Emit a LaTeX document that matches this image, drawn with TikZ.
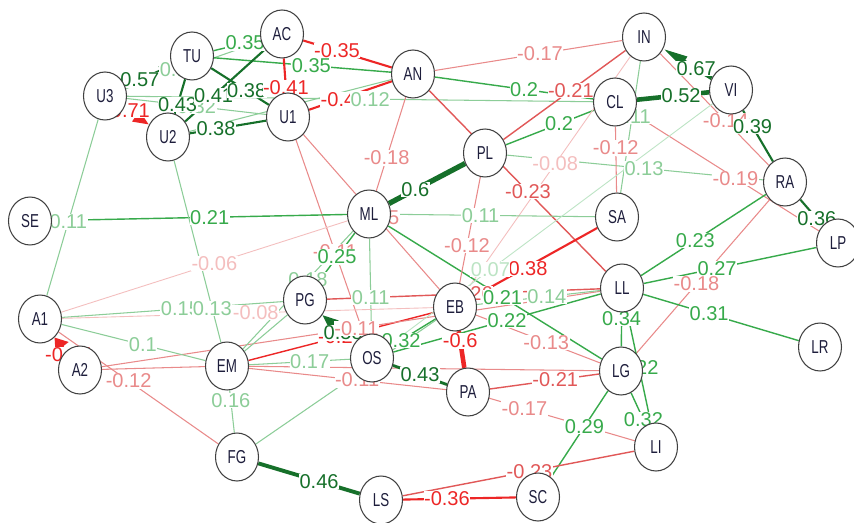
\documentclass[tikz,border=0pt]{standalone}
\usepackage{fontspec}
\setmainfont{Liberation Sans}
\usepackage{graphicx}
\usetikzlibrary{shapes.geometric,arrows.meta}
\definecolor{gA}{RGB}{22,112,42}
\definecolor{gB}{RGB}{55,170,75}
\definecolor{gC}{RGB}{140,205,152}
\definecolor{gD}{RGB}{188,228,196}
\definecolor{rA}{RGB}{237,38,38}
\definecolor{rB}{RGB}{225,88,88}
\definecolor{rC}{RGB}{233,138,138}
\definecolor{rD}{RGB}{244,190,190}
\definecolor{nodetext}{RGB}{30,30,60}
\pgfdeclarelayer{edgelayer}
\pgfdeclarelayer{labellayer}
\pgfsetlayers{edgelayer,labellayer,main}
\tikzset{var/.style={ellipse,draw=black!75,fill=white,line width=0.6pt,minimum width=0.86cm,minimum height=0.96cm,inner sep=0pt,text=nodetext,font=\fontsize{7.6}{9}\selectfont},
  elab/.style={fill=white,inner sep=0.3pt,font=\fontsize{11.4}{13}\selectfont},
  g1/.style={color=gD,line width=0.5pt},
  g2/.style={color=gC,line width=0.6pt},
  g3/.style={color=gB,line width=0.8pt},
  g4/.style={color=gA,line width=1.2pt},
  r1/.style={color=rD,line width=0.5pt},
  r2/.style={color=rC,line width=0.6pt},
  r3/.style={color=rB,line width=0.8pt},
  r4/.style={color=rA,line width=1.2pt}}
\newcommand\nm[1]{\scalebox{1}[1.4]{#1}}
\newcommand\cor[5]{%
  \begin{pgfonlayer}{edgelayer}\draw[#3] (#1) -- (#2);\end{pgfonlayer}%
  \begin{pgfonlayer}{labellayer}\path[#3] (#1.center) -- (#2.center) node[elab,pos=#4] {#5};\end{pgfonlayer}}

\begin{document}
\begin{tikzpicture}[x=0.02cm,y=-0.02cm]
  \useasboundingbox (0,0) rectangle (854,523);
  \begin{pgfonlayer}{edgelayer}\fill[white] (0,0) rectangle (854,523);\end{pgfonlayer}
  \node[var] (U3) at (105,96) {\nm{U3}};
  \node[var] (TU) at (192,56) {\nm{TU}};
  \node[var] (AC) at (282,34) {\nm{AC}};
  \node[var] (U2) at (168,137) {\nm{U2}};
  \node[var] (U1) at (288,117) {\nm{U1}};
  \node[var] (AN) at (413,74) {\nm{AN}};
  \node[var] (PL) at (485,153) {\nm{PL}};
  \node[var] (IN) at (644,37) {\nm{IN}};
  \node[var] (CL) at (615,102) {\nm{CL}};
  \node[var] (VI) at (731,90) {\nm{VI}};
  \node[var] (RA) at (785,182) {\nm{RA}};
  \node[var] (SA) at (617,217) {\nm{SA}};
  \node[var] (LP) at (838,243) {\nm{LP}};
  \node[var] (SE) at (30,221) {\nm{SE}};
  \node[var] (ML) at (369,214) {\nm{ML}};
  \node[var] (A1) at (40,319) {\nm{A1}};
  \node[var] (PG) at (305,300) {\nm{PG}};
  \node[var] (EM) at (227,366) {\nm{EM}};
  \node[var] (OS) at (372,358) {\nm{OS}};
  \node[var] (EB) at (455,307) {\nm{EB}};
  \node[var] (LL) at (622,288) {\nm{LL}};
  \node[var] (LG) at (621,371) {\nm{LG}};
  \node[var] (LR) at (820,347) {\nm{LR}};
  \node[var] (LI) at (656,447) {\nm{LI}};
  \node[var] (A2) at (80,370) {\nm{A2}};
  \node[var] (FG) at (237,457) {\nm{FG}};
  \node[var] (PA) at (468,392) {\nm{PA}};
  \node[var] (LS) at (381,500) {\nm{LS}};
  \node[var] (SC) at (538,497) {\nm{SC}};

  \cor{U3}{TU}{g4,line width=1.4pt,-{Triangle[length=7pt,width=5pt]}}{.4}{0.57}
  \cor{U3}{U2}{r4,line width=2pt,-{Triangle[length=9pt,width=7pt]}}{.35}{-0.71}
  \cor{U3}{AC}{g2}{.42}{0.14}
  \cor{U3}{U1}{g2}{.5}{0.32}
  \cor{TU}{AC}{g3}{.59}{0.35}
  \cor{TU}{AN}{g3}{.54}{0.35}
  \cor{TU}{U2}{g4}{.6}{0.43}
  \cor{AC}{U2}{g4}{.6}{0.41}
  \cor{TU}{U1}{g4}{.57}{0.38}
  \cor{AC}{U1}{r4}{.65}{-0.41}
  \cor{AC}{AN}{r4}{.42}{-0.35}
  \cor{U1}{AN}{r4}{.4}{-0.4}
  \cor{U2}{U1}{g4}{.4}{0.38}
  \cor{U3}{CL}{g2}{.52}{0.12}
  \begin{pgfonlayer}{edgelayer}\draw[g2] (U2) -- (AN);\end{pgfonlayer}
  \cor{AN}{IN}{r2}{.55}{-0.17}
  \cor{AN}{CL}{g3}{.55}{0.2}
  \cor{AN}{ML}{r2}{.6}{-0.18}
  \cor{AN}{LL}{r3}{.55}{-0.23}
  \cor{PL}{ML}{g4,line width=3pt}{.6}{0.6}
  \cor{IN}{PL}{r3}{.46}{-0.21}
  \cor{CL}{PL}{g3}{.43}{0.2}
  \cor{PL}{RA}{g2}{.53}{0.13}
  \cor{IN}{EB}{r1}{.47}{-0.08}
  \cor{CL}{SA}{r2}{.4}{-0.12}
  \cor{IN}{SA}{g2}{.44}{0.11}
  \cor{CL}{VI}{g4,line width=2.6pt}{.57}{0.52}
  \cor{VI}{IN}{g4,line width=2.2pt,-{Triangle[length=14pt,width=6pt]}}{.4}{0.67}
  \cor{IN}{RA}{r2}{.58}{-0.14}
  \cor{VI}{RA}{g4}{.4}{0.39}
  \cor{CL}{LP}{r2}{.54}{-0.19}
  \cor{RA}{LP}{g4}{.6}{0.36}
  \cor{RA}{LL}{g3}{.55}{0.23}
  \cor{RA}{LG}{r2}{.54}{-0.18}
  \cor{LL}{LP}{g3}{.44}{0.27}
  \cor{LL}{LR}{g3}{.44}{0.31}
  \cor{LL}{LG}{g3}{.37}{0.34}
  \cor{LL}{LI}{g3}{.5}{0.22}
  \cor{LG}{LI}{g3}{.64}{0.32}
  \cor{LG}{SC}{g3}{.44}{0.29}
  \cor{PA}{LI}{r2}{.3}{-0.17}
  \cor{PA}{LG}{r3}{.57}{-0.21}
  \cor{EB}{LG}{r2}{.55}{-0.13}
  \cor{EB}{PA}{r4,line width=2.6pt}{.4}{-0.6}
  \cor{OS}{EB}{g3}{.35}{0.32}
  \cor{EM}{EB}{r4,line width=0.8pt}{.5}{-0.27}
  \cor{OS}{PG}{g4,line width=1.6pt,-{Triangle[length=9pt,width=7pt]}}{.43}{0.58}
  \cor{U1}{OS}{r2}{.56}{-0.11}
  \cor{PG}{ML}{g3}{.5}{0.25}
  \cor{A2}{LL}{r2}{.51}{-0.11}
  \cor{ML}{OS}{g2}{.58}{0.11}
  \cor{U1}{EB}{r2}{.53}{-0.15}
  \cor{PG}{LL}{r3}{.52}{-0.26}
  \cor{EB}{LL}{g2}{.55}{0.14}
  \cor{ML}{LG}{g3}{.53}{0.21}
  \cor{OS}{LL}{g3}{.54}{0.22}
  \cor{ML}{SA}{g2}{.45}{0.11}
  \cor{SA}{EB}{r4}{.57}{-0.38}
  \cor{PL}{EB}{r2}{.6}{-0.12}
  \cor{SE}{ML}{g3}{.53}{0.21}
  \cor{U3}{A1}{g2}{.565}{0.11}
  \cor{A1}{ML}{r1}{.53}{-0.06}
  \cor{A1}{PG}{g2}{.53}{0.15}
  \cor{U2}{EM}{g2}{.75}{0.13}
  \cor{A1}{EB}{r1}{.52}{-0.08}
  \cor{A1}{EM}{g2}{.55}{0.1}
  \cor{A2}{A1}{r4,line width=2pt,-{Triangle[length=7pt,width=9pt]}}{.3}{-0.47}
  \cor{A1}{FG}{r2}{.45}{-0.12}
  \begin{pgfonlayer}{edgelayer}\draw[r2] (A2) -- (EM);\end{pgfonlayer}
  \cor{EM}{OS}{g2}{.57}{0.17}
  \begin{pgfonlayer}{edgelayer}\draw[g2] (EM) -- (PG);\end{pgfonlayer}
  \cor{EM}{ML}{g2}{.57}{0.18}
  \cor{EM}{PA}{r2}{.54}{-0.11}
  \begin{pgfonlayer}{edgelayer}\draw[r2] (EM) -- (LG);\end{pgfonlayer}
  \cor{EM}{FG}{g2}{.38}{0.16}
  \cor{FG}{LS}{g4,line width=2.2pt}{.57}{0.46}
  \begin{pgfonlayer}{edgelayer}\draw[g2] (FG) -- (EB);\end{pgfonlayer}
  \cor{OS}{PA}{g4,line width=1.6pt}{.5}{0.43}
  \cor{LS}{SC}{r4}{.42}{-0.36}
  \cor{LS}{LI}{r3}{.54}{-0.23}
  \cor{VI}{OS}{g1}{.67}{0.07}
\end{tikzpicture}
\end{document}
